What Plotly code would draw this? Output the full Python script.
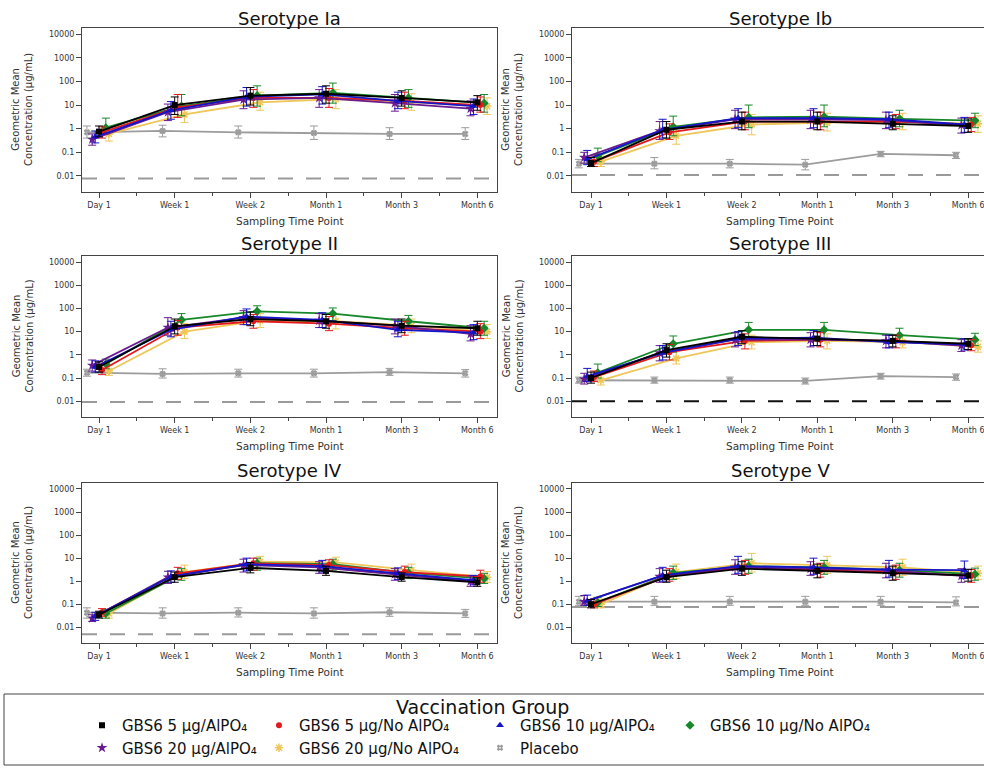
import numpy as np
import plotly.graph_objects as go

# ---------------------------------------------------------------- data
TIMEPOINTS = ["Day 1", "Week 1", "Week 2", "Month 1", "Month 3", "Month 6"]
GROUPS = [
    "GBS6 5 μg/AlPO₄",
    "GBS6 5 μg/No AlPO₄",
    "GBS6 10 μg/AlPO₄",
    "GBS6 10 μg/No AlPO₄",
    "GBS6 20 μg/AlPO₄",
    "GBS6 20 μg/No AlPO₄",
    "Placebo",
]
SEROTYPES = ["Serotype Ia", "Serotype Ib", "Serotype II",
             "Serotype III", "Serotype IV", "Serotype V"]
# lower limit of quantitation per serotype (μg/mL)
LLOQ = [0.0078, 0.011, 0.0093, 0.010, 0.005, 0.077]
Y_TICKS = [0.01, 0.1, 1, 10, 100, 1000, 10000]
Y_TICKTEXT = ["0.01", "0.1", "1", "10", "100", "1000", "10000"]

# rows follow GROUPS, columns follow TIMEPOINTS
IA_GMC = [[0.75, 10, 25, 30, 20, 13],
          [0.7, 8, 20, 20, 15, 10],
          [0.45, 6, 22, 28, 15, 9],
          [1.1, 9, 25, 33, 20, 12],
          [0.35, 5, 17, 20, 12, 7],
          [0.6, 4, 13, 18, 13, 9],
          [0.7, 0.8, 0.7, 0.65, 0.6, 0.6]]
IA_LOW = [[0.45, 4, 10, 12, 9, 6],
          [0.4, 3, 8, 8, 7, 5],
          [0.25, 2.5, 9, 11, 7, 4],
          [0.6, 3.5, 9, 12, 8, 5],
          [0.2, 2.2, 7, 8, 5.5, 3.5],
          [0.3, 1.8, 6, 7, 6, 4],
          [0.4, 0.45, 0.4, 0.35, 0.35, 0.35]]
IA_HIGH = [[1.3, 22, 55, 65, 40, 25],
           [1.2, 28, 45, 50, 35, 22],
           [0.8, 14, 55, 60, 35, 18],
           [2.8, 28, 65, 85, 45, 28],
           [0.6, 11, 40, 45, 28, 15],
           [1.2, 12, 35, 45, 30, 20],
           [1.3, 1.4, 1.3, 1.3, 1.1, 1.1]]

IB_GMC = [[0.035, 0.9, 2.0, 2.0, 1.6, 1.3],
          [0.04, 0.7, 2.0, 2.0, 2.0, 1.5],
          [0.05, 0.9, 2.8, 2.8, 2.5, 1.5],
          [0.07, 1.2, 3.0, 3.2, 2.6, 2.2],
          [0.06, 0.8, 2.5, 2.5, 2.3, 1.4],
          [0.04, 0.5, 1.5, 1.8, 2.0, 1.6],
          [0.033, 0.033, 0.033, 0.03, 0.085, 0.075]]
IB_LOW = [[0.025, 0.4, 0.9, 0.9, 0.9, 0.7],
          [0.025, 0.35, 0.9, 0.9, 1.0, 0.75],
          [0.03, 0.4, 1.1, 1.1, 1.1, 0.7],
          [0.04, 0.5, 1.1, 1.2, 1.2, 1.1],
          [0.035, 0.35, 1.0, 1.0, 1.0, 0.65],
          [0.025, 0.22, 0.55, 0.8, 0.9, 0.7],
          [0.022, 0.02, 0.022, 0.018, 0.065, 0.055]]
IB_HIGH = [[0.06, 2.0, 5, 5, 3.5, 2.6],
           [0.07, 1.6, 5, 5, 4, 3],
           [0.12, 2.5, 7, 7, 5, 3],
           [0.15, 3.4, 10, 10, 6, 4.5],
           [0.1, 2.0, 6, 6, 5, 2.8],
           [0.07, 1.3, 4, 4.5, 4.5, 3.5],
           [0.05, 0.06, 0.05, 0.05, 0.11, 0.1]]

II_GMC = [[0.3, 17, 35, 28, 18, 14],
          [0.22, 15, 28, 22, 14, 10],
          [0.3, 12, 45, 32, 12, 9],
          [0.4, 32, 75, 60, 28, 14],
          [0.35, 15, 40, 30, 18, 8],
          [0.2, 10, 30, 28, 18, 10],
          [0.17, 0.15, 0.16, 0.16, 0.18, 0.16]]
II_LOW = [[0.18, 8, 18, 14, 9, 7],
          [0.14, 7, 14, 11, 7, 5],
          [0.18, 6, 20, 15, 6, 4.5],
          [0.25, 15, 40, 30, 13, 7],
          [0.2, 7, 20, 15, 8, 4],
          [0.13, 5, 15, 13, 9, 5],
          [0.12, 0.1, 0.11, 0.11, 0.13, 0.11]]
II_HIGH = [[0.5, 35, 70, 55, 35, 28],
           [0.4, 30, 55, 45, 28, 22],
           [0.55, 28, 95, 65, 28, 20],
           [0.65, 60, 130, 105, 50, 28],
           [0.6, 40, 80, 60, 35, 18],
           [0.35, 22, 60, 55, 35, 20],
           [0.24, 0.25, 0.24, 0.24, 0.26, 0.23]]

III_GMC = [[0.1, 1.6, 6, 5, 4, 3],
           [0.11, 1.3, 4, 4.5, 4, 2.6],
           [0.12, 1.2, 5, 5.5, 3.5, 2.8],
           [0.17, 3, 12, 12, 7, 4.5],
           [0.09, 1.2, 4.5, 4.5, 4, 2.5],
           [0.08, 0.7, 3.5, 4, 3.5, 2.2],
           [0.08, 0.08, 0.08, 0.075, 0.12, 0.11]]
III_LOW = [[0.06, 0.8, 3, 2.5, 2.2, 1.7],
           [0.07, 0.6, 1.8, 2.2, 2.0, 1.5],
           [0.07, 0.6, 2.5, 2.5, 2, 1.6],
           [0.1, 1.3, 5, 5, 3.5, 2.5],
           [0.055, 0.55, 2.2, 2.2, 2, 1.4],
           [0.05, 0.4, 1.8, 1.8, 2, 1.3],
           [0.06, 0.06, 0.06, 0.055, 0.09, 0.08]]
III_HIGH = [[0.18, 3, 11, 10, 7, 5],
            [0.2, 2.8, 8, 9, 7, 4.5],
            [0.26, 2.5, 10, 11, 7, 5],
            [0.4, 6.5, 25, 25, 14, 8.5],
            [0.16, 2.5, 9, 9, 7, 4.5],
            [0.14, 1.5, 7, 8, 7, 4],
            [0.11, 0.11, 0.11, 0.1, 0.16, 0.15]]

IV_GMC = [[0.035, 1.5, 3.8, 2.8, 1.5, 0.9],
          [0.045, 2.2, 6, 5, 2.5, 1.6],
          [0.03, 1.6, 5.5, 4.5, 2.2, 1.1],
          [0.04, 2.0, 6, 5.5, 2.3, 1.3],
          [0.025, 1.5, 5, 4, 2, 1.0],
          [0.04, 2.5, 7, 6.5, 3, 1.5],
          [0.043, 0.04, 0.043, 0.04, 0.045, 0.04]]
IV_LOW = [[0.025, 0.9, 2.3, 1.8, 1.0, 0.6],
          [0.03, 1.2, 3, 2.8, 1.4, 0.9],
          [0.02, 0.9, 2.8, 2.5, 1.2, 0.7],
          [0.025, 1.1, 3, 3, 1.3, 0.8],
          [0.018, 0.8, 2.5, 2.2, 1.1, 0.6],
          [0.025, 1.3, 3.5, 3.5, 1.6, 0.9],
          [0.025, 0.025, 0.028, 0.025, 0.03, 0.027]]
IV_HIGH = [[0.05, 2.5, 6.5, 4.5, 2.3, 1.4],
           [0.065, 4, 10, 8.5, 4.5, 3],
           [0.045, 2.8, 10, 8, 3.8, 1.8],
           [0.06, 3.5, 10, 9, 4, 2.2],
           [0.035, 2.7, 9, 7, 3.5, 1.7],
           [0.06, 5, 12, 11, 5.5, 2.6],
           [0.07, 0.07, 0.07, 0.07, 0.07, 0.06]]

V_GMC = [[0.1, 1.5, 3.5, 2.8, 2.2, 1.8],
         [0.1, 1.8, 4, 3, 2.5, 1.7],
         [0.14, 1.8, 4.5, 4, 3.2, 3],
         [0.12, 2.3, 4.5, 4, 3, 2],
         [0.13, 1.6, 4, 3.5, 3, 1.7],
         [0.1, 2.5, 6, 5, 4, 2.2],
         [0.13, 0.13, 0.13, 0.13, 0.13, 0.12]]
V_LOW = [[0.07, 0.9, 1.8, 1.4, 1.1, 1.0],
         [0.07, 1.0, 2, 1.5, 1.2, 0.9],
         [0.09, 1.0, 2.2, 2, 1.5, 1.3],
         [0.08, 1.2, 2.2, 2, 1.5, 1.1],
         [0.09, 0.9, 2, 1.8, 1.4, 0.9],
         [0.07, 1.3, 2.5, 2.2, 1.8, 1.2],
         [0.09, 0.09, 0.09, 0.09, 0.09, 0.085]]
V_HIGH = [[0.16, 3, 7, 5.5, 4.5, 3.3],
          [0.17, 3.5, 8, 6, 5, 3.2],
          [0.25, 4, 12, 10, 8, 7.5],
          [0.2, 4.5, 9, 8, 6, 3.7],
          [0.24, 3.5, 8.5, 7, 6, 3.5],
          [0.17, 5.5, 16, 12, 9, 4.5],
          [0.22, 0.22, 0.22, 0.22, 0.22, 0.21]]

GMC = [IA_GMC, IB_GMC, II_GMC, III_GMC, IV_GMC, V_GMC]
LOW = [IA_LOW, IB_LOW, II_LOW, III_LOW, IV_LOW, V_LOW]
HIGH = [IA_HIGH, IB_HIGH, II_HIGH, III_HIGH, IV_HIGH, V_HIGH]

# ---------------------------------------------------------------- styling
COLORS = ["#000000", "#E3191C", "#1414C8", "#17882A", "#6A1B8F", "#EEC65A", "#9C9C9C"]
SYMBOLS = ["square", "circle", "triangle-up", "diamond", "star", "asterisk-open", "hash-open"]
SIZES = [6, 6, 7, 7, 8, 7, 6]
DODGE = [0.0, 0.04, -0.05, 0.09, -0.09, 0.13, -0.16]
DRAW_ORDER = [6, 5, 3, 1, 4, 2, 0]
LLOQ_COLORS = ["#9A9A9A", "#9A9A9A", "#9A9A9A", "#111111", "#9A9A9A", "#9A9A9A"]
LEGEND_COLUMNS = [[0, 4], [1, 5], [2, 6], [3]]
LEGEND_LEFT = [82, 259, 480, 670]

FONT = "DejaVu Sans"
W, H = 984, 768
ROWS = [(28, 192), (256, 417), (483, 643)]      # top / bottom of each plot box (px)
COLS = [(82, 497), (572, 984)]                  # left / right of each plot box (px)
XRANGES = [(-0.225, 5.26), (-0.252, 5.21)]
YRANGE = (-2.68, 4.26)
TITLE_Y = [18, 243, 470]


def fx(p):
    return p / W


def fy(p):
    return 1 - p / H


fig = go.Figure()
x_idx = np.arange(len(TIMEPOINTS))
annotations, shapes, layout_axes = [], [], {}

for i, title in enumerate(SEROTYPES):
    r, c = divmod(i, 2)
    sfx = "" if i == 0 else str(i + 1)
    xa, ya = "x" + sfx, "y" + sfx

    for g in DRAW_ORDER:
        gm = np.array(GMC[i][g], dtype=float)
        lo = np.array(LOW[i][g], dtype=float)
        hi = np.array(HIGH[i][g], dtype=float)
        open_sym = SYMBOLS[g].endswith("-open")
        fig.add_trace(go.Scatter(
            x=x_idx + DODGE[g], y=gm, xaxis=xa, yaxis=ya,
            mode="lines+markers", name=GROUPS[g], showlegend=False,
            line=dict(color=COLORS[g], width=1.8),
            marker=dict(symbol=SYMBOLS[g], size=SIZES[g], color=COLORS[g],
                        line=dict(width=1.5 if open_sym else 0, color=COLORS[g])),
            error_y=dict(type="data", symmetric=False, array=hi - gm,
                         arrayminus=gm - lo, color=COLORS[g], thickness=1, width=4),
            cliponaxis=True,
        ))

    top, bot = ROWS[r]
    left, right = COLS[c]
    layout_axes["xaxis" + sfx] = dict(
        domain=[fx(left), fx(right)], range=list(XRANGES[c]), anchor=ya,
        tickmode="array", tickvals=list(x_idx), ticktext=TIMEPOINTS,
        ticks="outside", ticklen=5, tickcolor="#444", ticklabeloverflow="allow",
        minor=dict(tick0=0.5, dtick=1, ticks="outside", ticklen=3, tickcolor="#444"),
        showline=True, linecolor="#444", linewidth=1, mirror=True,
        showgrid=False, zeroline=False,
        tickfont=dict(family=FONT, size=8, color="#333"),
    )
    layout_axes["yaxis" + sfx] = dict(
        domain=[fy(bot), fy(top)], type="log", range=list(YRANGE), anchor=xa,
        tickmode="array", tickvals=Y_TICKS, ticktext=Y_TICKTEXT,
        ticks="outside", ticklen=5, tickcolor="#444",
        showline=True, linecolor="#444", linewidth=1, mirror=(c == 0),
        showgrid=False, zeroline=False,
        tickfont=dict(family=FONT, size=8, color="#333"),
    )

    # lower limit of quantitation
    shapes.append(dict(type="line", xref=xa + " domain", x0=0, x1=1,
                       yref=ya, y0=LLOQ[i], y1=LLOQ[i], layer="below",
                       line=dict(color=LLOQ_COLORS[i], width=2, dash="15px,13px")))

    cx = (left + min(right, 988) + (4 if c == 1 else 0)) / 2
    annotations.append(dict(text=title, x=fx(cx), y=fy(TITLE_Y[r]), xref="paper", yref="paper",
                            showarrow=False, xanchor="center", yanchor="middle",
                            font=dict(family=FONT, size=18, color="#111")))
    annotations.append(dict(text="Sampling Time Point", x=fx(cx), y=fy(bot + 29),
                            xref="paper", yref="paper", showarrow=False,
                            xanchor="center", yanchor="middle",
                            font=dict(family=FONT, size=10.5, color="#333")))
    annotations.append(dict(text="Geometric Mean<br>Concentration (μg/mL)",
                            x=fx(left - 60), y=fy((top + bot) / 2), xref="paper", yref="paper",
                            showarrow=False, textangle=-90, xanchor="center", yanchor="middle",
                            font=dict(family=FONT, size=10, color="#333")))

# legend: frame, title and four columns of entries
shapes.append(dict(type="rect", xref="paper", yref="paper",
                   x0=fx(4), x1=fx(1000), y0=fy(765), y1=fy(694),
                   line=dict(color="#444", width=1), fillcolor="rgba(0,0,0,0)"))
annotations.append(dict(text="Vaccination Group", x=fx(482), y=fy(707), xref="paper", yref="paper",
                        showarrow=False, xanchor="center", yanchor="middle",
                        font=dict(family=FONT, size=19, color="#111")))

legend_layouts = {}
for k, col in enumerate(LEGEND_COLUMNS):
    lname = "legend" if k == 0 else f"legend{k + 1}"
    for g in col:
        open_sym = SYMBOLS[g].endswith("-open")
        fig.add_trace(go.Scatter(
            x=[None], y=[None], mode="markers", name=GROUPS[g],
            legend=lname, showlegend=True,
            marker=dict(symbol=SYMBOLS[g], size=SIZES[g], color=COLORS[g],
                        line=dict(width=1.5 if open_sym else 0, color=COLORS[g])),
        ))
    legend_layouts[lname] = dict(
        x=fx(LEGEND_LEFT[k]), y=fy(709), xref="paper", yref="paper",
        xanchor="left", yanchor="top", orientation="v",
        bgcolor="rgba(0,0,0,0)", borderwidth=0, tracegroupgap=0,
        font=dict(family=FONT, size=15, color="#111"),
    )

fig.update_layout(
    width=W, height=H,
    margin=dict(l=0, r=0, t=0, b=0, pad=0, autoexpand=False),
    paper_bgcolor="white", plot_bgcolor="white",
    font=dict(family=FONT, color="#333"),
    annotations=annotations, shapes=shapes,
    **layout_axes, **legend_layouts,
)

fig.write_html("out.html")
